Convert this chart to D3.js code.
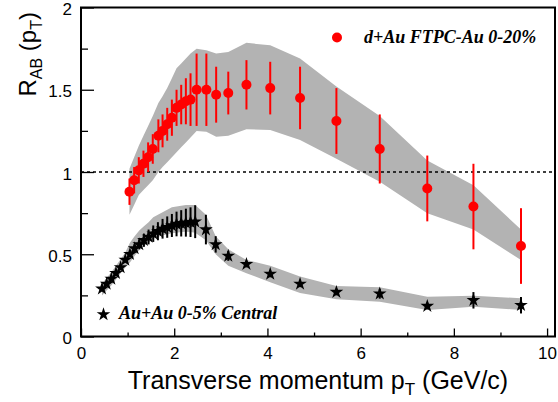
<!DOCTYPE html>
<html>
<head>
<meta charset="utf-8">
<script src="https://cdn.jsdelivr.net/npm/d3@7"></script>
<style>
  html, body { margin: 0; padding: 0; background: #fff; }
  svg { display: block; }
</style>
</head>
<body>
<div id="chart"></div>
<script>
// ---- data: d+Au FTPC-Au 0-20% ----
const dauPt   = [1.04,1.14,1.24,1.34,1.44,1.54,1.66,1.75,1.85,1.95,2.05,2.15,2.25,2.35,2.48,2.69,2.90,3.16,3.55,4.06,4.70,5.48,6.41,7.43,8.42,9.44];
const dauR    = [0.88,0.95,1.01,1.05,1.09,1.14,1.22,1.25,1.29,1.33,1.39,1.41,1.43,1.44,1.50,1.50,1.47,1.48,1.53,1.51,1.45,1.31,1.14,0.90,0.79,0.55];
const dauStat = [0.08,0.08,0.08,0.08,0.09,0.09,0.10,0.10,0.10,0.11,0.11,0.12,0.14,0.16,0.22,0.22,0.17,0.13,0.15,0.16,0.19,0.20,0.21,0.20,0.26,0.23];
const dauSysLo= [0.74,0.80,0.86,0.89,0.92,0.95,1.00,1.03,1.06,1.09,1.12,1.15,1.18,1.21,1.25,1.245,1.215,1.22,1.26,1.255,1.195,1.08,0.94,0.75,0.65,0.465];
const dauSysHi= [1.02,1.09,1.16,1.22,1.28,1.34,1.42,1.46,1.51,1.57,1.63,1.66,1.69,1.72,1.75,1.74,1.72,1.73,1.785,1.77,1.69,1.52,1.34,1.07,0.92,0.65];

// ---- data: Au+Au 0-5% Central ----
const auPt   = [0.45,0.55,0.65,0.75,0.85,0.95,1.05,1.15,1.25,1.35,1.45,1.55,1.65,1.75,1.85,1.95,2.05,2.15,2.25,2.35,2.45,2.68,2.89,3.16,3.55,4.06,4.70,5.48,6.41,7.43,8.42,9.44];
const auR    = [0.29,0.32,0.35,0.385,0.42,0.465,0.50,0.535,0.56,0.585,0.605,0.625,0.64,0.655,0.665,0.675,0.684,0.688,0.692,0.695,0.698,0.65,0.56,0.49,0.44,0.38,0.32,0.27,0.26,0.185,0.22,0.19];
const auStat = [0.015,0.015,0.015,0.015,0.015,0.015,0.02,0.025,0.03,0.04,0.045,0.05,0.055,0.06,0.065,0.07,0.075,0.08,0.085,0.09,0.10,0.09,0.05,0.03,0.02,0.02,0.02,0.02,0.03,0.02,0.05,0.05];
const auSysLo= [0.25,0.28,0.31,0.345,0.385,0.42,0.45,0.49,0.525,0.55,0.57,0.595,0.605,0.615,0.62,0.627,0.63,0.635,0.637,0.635,0.63,0.585,0.50,0.43,0.385,0.33,0.265,0.226,0.212,0.161,0.181,0.161];
const auSysHi= [0.32,0.355,0.39,0.43,0.47,0.51,0.57,0.61,0.645,0.67,0.695,0.725,0.74,0.755,0.77,0.785,0.79,0.795,0.80,0.80,0.80,0.74,0.61,0.53,0.465,0.43,0.364,0.307,0.299,0.242,0.248,0.232];

// ---- axes ----
const xMajor = [0,2,4,6,8,10];
const xMinor = [1,3,5,7,9];
const yMajor = [0,0.5,1,1.5,2];
const yMinor = [0.25,0.75,1.25,1.75];
const yLabels = ["0","0.5","1","1.5","2"];
const xLabels = ["0","2","4","6","8","10"];

const W = 558, H = 402;
const L = 81, R = 555, T = 7.5, B = 336.5;

const svg = d3.select("#chart").append("svg").attr("width", W).attr("height", H);
const x = d3.scaleLinear().domain([0, 10.17]).range([L, R]);
const y = d3.scaleLinear().domain([0, 2]).range([B, T]);

const bandColor = "#b3b3b3";

function band(pts, lo, hi) {
  const d = pts.map((p, i) => ({p, lo: lo[i], hi: hi[i]}));
  svg.append("path")
    .datum(d)
    .attr("fill", bandColor)
    .attr("d", d3.area().x(v => x(v.p)).y0(v => y(v.lo)).y1(v => y(v.hi)));
}
band(dauPt, dauSysLo, dauSysHi);
band(auPt, auSysLo, auSysHi);

// dashed unity line
svg.append("line")
  .attr("x1", x(0)).attr("x2", R).attr("y1", y(1)).attr("y2", y(1))
  .attr("stroke", "#000").attr("stroke-width", 1.3).attr("stroke-dasharray", "3,3");

// Au+Au stat errors & stars
const au = auPt.map((p, i) => ({p, r: auR[i], e: auStat[i]}));
svg.append("g").selectAll("line").data(au).join("line")
  .attr("x1", d => x(d.p)).attr("x2", d => x(d.p))
  .attr("y1", d => y(d.r - d.e)).attr("y2", d => y(d.r + d.e))
  .attr("stroke", "#000").attr("stroke-width", 2);
const star = d3.symbol().type(d3.symbolStar).size(58);
svg.append("g").selectAll("path").data(au).join("path")
  .attr("transform", d => `translate(${x(d.p)},${y(d.r)})`)
  .attr("d", star).attr("fill", "#000");

// d+Au stat errors & dots
const dau = dauPt.map((p, i) => ({p, r: dauR[i], e: dauStat[i]}));
svg.append("g").selectAll("line").data(dau).join("line")
  .attr("x1", d => x(d.p)).attr("x2", d => x(d.p))
  .attr("y1", d => y(d.r - d.e)).attr("y2", d => y(d.r + d.e))
  .attr("stroke", "#ff0000").attr("stroke-width", 2);
svg.append("g").selectAll("circle").data(dau).join("circle")
  .attr("cx", d => x(d.p)).attr("cy", d => y(d.r)).attr("r", 5)
  .attr("fill", "#ff0000");

// frame
svg.append("rect").attr("x", L).attr("y", T).attr("width", R - L).attr("height", B - T)
  .attr("fill", "none").attr("stroke", "#000").attr("stroke-width", 2);

// y axis ticks (inward)
const yAx = svg.append("g").attr("transform", `translate(${L},0)`);
yAx.call(d3.axisLeft(y).tickValues(yMajor).tickSize(-13).tickFormat((d, i) => yLabels[i]).tickPadding(9));
yAx.append("g").call(d3.axisLeft(y).tickValues(yMinor).tickSize(-7).tickFormat(""));
yAx.selectAll(".domain").remove();
yAx.selectAll("line").attr("stroke", "#000").attr("stroke-width", 1.3);
yAx.selectAll("text").attr("font-family", "Liberation Sans, Arial, sans-serif").attr("font-size", 17)
  .attr("fill", "#000").attr("dy", "0.42em");

// x axis ticks (inward)
const xAx = svg.append("g").attr("transform", `translate(0,${B})`);
xAx.call(d3.axisBottom(x).tickValues(xMajor).tickSize(-8).tickFormat((d, i) => xLabels[i]).tickPadding(10));
xAx.append("g").call(d3.axisBottom(x).tickValues(xMinor).tickSize(-4).tickFormat(""));
xAx.selectAll(".domain").remove();
xAx.selectAll("line").attr("stroke", "#000").attr("stroke-width", 1.3);
xAx.selectAll("text").attr("font-family", "Liberation Sans, Arial, sans-serif").attr("font-size", 17).attr("fill", "#000");

// axis titles
const xt = svg.append("text").attr("x", (L + R) / 2).attr("y", 389).attr("text-anchor", "middle")
  .attr("font-family", "Liberation Sans, Arial, sans-serif").attr("font-size", 25).attr("fill", "#000");
xt.append("tspan").text("Transverse momentum p");
xt.append("tspan").attr("dy", 6).attr("font-size", 17).text("T");
xt.append("tspan").attr("dy", -6).text(" (GeV/c)");

const yt = svg.append("text").attr("transform", "translate(36,12) rotate(-90)").attr("text-anchor", "end")
  .attr("font-family", "Liberation Sans, Arial, sans-serif").attr("font-size", 24).attr("fill", "#000");
yt.append("tspan").text("R");
yt.append("tspan").attr("dy", 6).attr("font-size", 16).text("AB");
yt.append("tspan").attr("dy", -6).text(" (p");
yt.append("tspan").attr("dy", 6).attr("font-size", 16).text("T");
yt.append("tspan").attr("dy", -6).text(")");

// legends
svg.append("circle").attr("cx", 337).attr("cy", 37.5).attr("r", 5).attr("fill", "#ff0000");
svg.append("text").attr("x", 364).attr("y", 43).text("d+Au FTPC-Au 0-20%")
  .attr("font-family", "Liberation Serif, Times New Roman, serif").attr("font-style", "italic")
  .attr("font-weight", "bold").attr("font-size", 18).attr("fill", "#000");
svg.append("path").attr("transform", "translate(103.5,314.5)").attr("d", star).attr("fill", "#000");
svg.append("text").attr("x", 119).attr("y", 319).text("Au+Au 0-5% Central")
  .attr("font-family", "Liberation Serif, Times New Roman, serif").attr("font-style", "italic")
  .attr("font-weight", "bold").attr("font-size", 18).attr("fill", "#000");
</script>
</body>
</html>
